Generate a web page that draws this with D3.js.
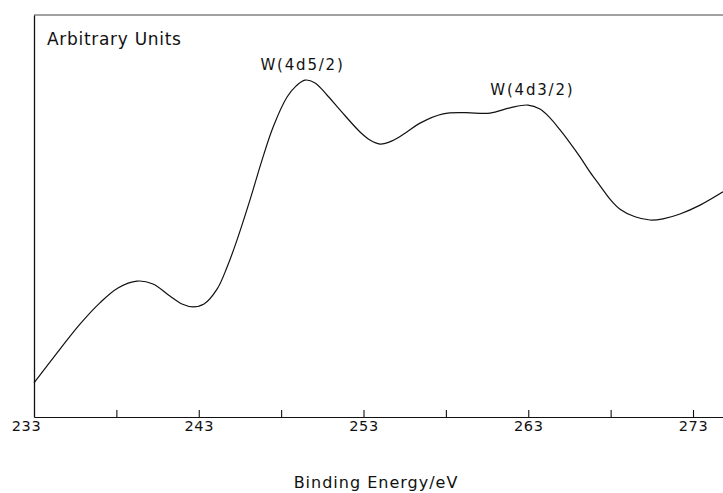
<!DOCTYPE html>
<html>
<head>
<meta charset="utf-8">
<script src="https://cdn.jsdelivr.net/npm/d3@7"></script>
<style>
  html, body { margin: 0; padding: 0; background: #fff; }
  svg { display: block; }
  text { font-family: "DejaVu Sans", sans-serif; fill: #111; }
</style>
</head>
<body>
<svg id="chart" width="723" height="493"></svg>
<script>
// ---- data ----
const energy = [233.0, 234.58, 235.79, 237.0, 238.1, 239.25, 240.22, 241.25, 241.98, 242.65,
  243.32, 244.11, 244.72, 245.32, 246.11, 246.84, 247.51, 248.36, 248.9, 249.45,
  250.06, 250.78, 251.57, 252.79, 253.39, 254.0, 254.73, 255.52, 256.43, 257.83,
  259.16, 260.68, 261.89, 262.98, 263.71, 264.32, 264.93, 265.53, 266.14, 266.75,
  267.36, 267.96, 268.57, 269.48, 270.39, 271.18, 272.21, 273.43, 274.82];
const intensity = [8.5, 16.9, 23.1, 28.4, 32.1, 33.8, 33.1, 30.1, 28.1, 27.4,
  28.1, 31.8, 37.3, 44.0, 54.0, 63.9, 72.1, 79.6, 82.3, 83.8,
  83.1, 80.1, 76.4, 70.9, 68.9, 67.9, 68.7, 70.6, 73.1, 75.4,
  75.7, 75.6, 76.9, 77.6, 76.6, 74.4, 71.4, 68.2, 64.7, 60.9,
  57.5, 54.2, 51.7, 49.8, 49.0, 49.3, 50.5, 52.7, 56.0];
const tickValues = [238, 243, 248, 253, 258, 263, 268, 273];
const tickLabels = [233, 243, 253, 263, 273];
const peakLabels = ["W(4d5/2)", "W(4d3/2)"];
const peakLabelEnergy = [249.3, 263.25];
const peakLabelIntensity = [86.3, 80.0];
const xTitle = "Binding Energy/eV";
const yTitle = "Arbitrary Units";

// ---- layout ----
const svg = d3.select("#chart");
const mLeft = 34, mRight = 723, mTop = 15, mBottom = 417;

const x = d3.scaleLinear().domain([233, 274.82]).range([mLeft, mRight]);
const y = d3.scaleLinear().domain([0, 100]).range([mBottom, mTop]);

// top frame line
svg.append("line")
  .attr("x1", mLeft).attr("x2", mRight)
  .attr("y1", y(100)).attr("y2", y(100))
  .attr("stroke", "#444").attr("stroke-width", 1);

// left axis (no ticks)
const yAxis = svg.append("g")
  .attr("transform", `translate(${mLeft},0)`)
  .call(d3.axisLeft(y).tickValues([]).tickSizeOuter(0));
yAxis.select(".domain").attr("stroke", "#111").attr("stroke-width", 1.3);

// bottom axis with inward ticks
const xAxis = svg.append("g")
  .attr("transform", `translate(0,${mBottom})`)
  .call(d3.axisBottom(x)
    .tickValues([233].concat(tickValues))
    .tickSizeInner(-7)
    .tickSizeOuter(0)
    .tickPadding(4)
    .tickFormat(d => tickLabels.includes(d) ? String(d) : ""));
xAxis.select(".domain").attr("stroke", "#111").attr("stroke-width", 1.2);
xAxis.selectAll(".tick line").attr("stroke", "#111").attr("stroke-width", 1.1);
xAxis.selectAll(".tick").filter(d => d === 233).select("line").remove();
xAxis.selectAll(".tick text")
  .attr("font-family", "DejaVu Sans, sans-serif")
  .attr("font-size", 14.5)
  .attr("letter-spacing", 0.6)
  .attr("fill", "#111")
  .attr("dx", d => d === 233 ? -8 : 0);

// curve
const pts = energy.map((e, i) => [e, intensity[i]]);
const line = d3.line()
  .x(d => x(d[0]))
  .y(d => y(d[1]))
  .curve(d3.curveCatmullRom.alpha(0.5));
svg.append("path")
  .datum(pts)
  .attr("d", line)
  .attr("fill", "none")
  .attr("stroke", "#111")
  .attr("stroke-width", 1.2);

// y title
svg.append("text")
  .attr("x", 47).attr("y", 45)
  .attr("font-size", 17)
  .attr("letter-spacing", 0.7)
  .text(yTitle);

// peak labels
svg.selectAll("text.peak")
  .data(peakLabels)
  .join("text")
  .attr("class", "peak")
  .attr("x", (d, i) => x(peakLabelEnergy[i]))
  .attr("y", (d, i) => y(peakLabelIntensity[i]))
  .attr("text-anchor", "middle")
  .attr("font-size", 15)
  .attr("letter-spacing", 1.8)
  .text(d => d);

// x title
svg.append("text")
  .attr("x", 376).attr("y", 488)
  .attr("text-anchor", "middle")
  .attr("font-size", 16)
  .attr("letter-spacing", 1)
  .text(xTitle);
</script>
</body>
</html>
